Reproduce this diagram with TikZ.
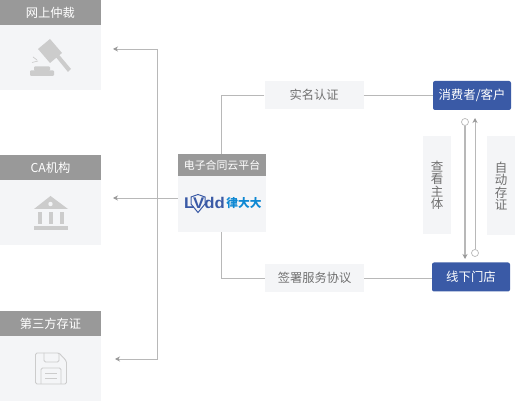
\documentclass[tikz,border=0pt]{standalone}
\usepackage{fontspec}
\setmainfont{Noto Sans CJK SC}
\newfontfamily\latinf{Liberation Sans}
\usetikzlibrary{arrows.meta,calc}
\definecolor{hdr}{HTML}{999999}
\definecolor{pale}{HTML}{F4F5F7}
\definecolor{navy}{HTML}{3A5AA6}
\definecolor{wire}{HTML}{B8B8B8}
\definecolor{ico}{HTML}{CCCCCC}
\definecolor{txt}{HTML}{707070}
\tikzset{
  x=1pt,y=-1pt,
  hdrbox/.style={fill=hdr,text=white,inner sep=0pt,font=\fontsize{12.25}{13}\selectfont},
  bodybox/.style={fill=pale,inner sep=0pt},
  labbox/.style={fill=pale,text=txt,inner sep=0pt,font=\fontsize{12.25}{13}\selectfont},
  vbox/.style={fill=pale,text=txt,inner sep=0pt,align=center,font=\fontsize{12.5}{12.5}\selectfont},
  bluebox/.style={fill=navy,rounded corners=2pt,text=white,inner sep=0pt,font=\fontsize{12.4}{13}\selectfont},
  wireline/.style={draw=wire,line width=0.9pt},
  tipped/.style={wireline,-{Stealth[length=5pt,width=5pt,color=hdr]}},
  ring/.style={circle,draw=wire,fill=white,line width=0.7pt,minimum size=7pt,inner sep=0pt},
}
\begin{document}
\begin{tikzpicture}
\useasboundingbox (0,0) rectangle (515,401);
% left column
\node[bodybox,minimum width=101pt,minimum height=65pt] (b1) at (50.5,57.5) {};
\node[hdrbox,minimum width=101pt,minimum height=25pt] (h1) at (50.5,12.5) {网上仲裁};
\node[bodybox,minimum width=101pt,minimum height=65pt] (b2) at (50.5,212.5) {};
\node[hdrbox,minimum width=101pt,minimum height=25pt] (h2) at (50.5,167.5) {CA机构};
\node[bodybox,minimum width=101pt,minimum height=65pt] (b3) at (50.5,368.5) {};
\node[hdrbox,minimum width=101pt,minimum height=25pt] (h3) at (50.5,323.5) {第三方存证};
% centre
\node[bodybox,minimum width=88pt,minimum height=56pt] (pb) at (222,204) {};
\node[hdrbox,minimum width=88pt,minimum height=22pt,font=\fontsize{10.9}{12}\selectfont] (ph) at (222,165) {电子合同云平台};
% labels
\node[labbox,minimum width=99pt,minimum height=28pt] (l1) at (314,95) {实名认证};
\node[labbox,minimum width=99pt,minimum height=28pt] (l2) at (314.5,278) {签署服务协议};
\node[bluebox,minimum width=78pt,minimum height=29pt] (u1) at (472,95.5) {消费者/客户};
\node[bluebox,minimum width=78pt,minimum height=29pt] (u2) at (471,277) {线下门店};
\node[vbox,minimum width=28pt,minimum height=98pt] (v1) at (437,185) {查\\看\\主\\体};
\node[vbox,minimum width=28pt,minimum height=99pt] (v2) at (501,186) {自\\动\\存\\证};
% connectors
\coordinate (trunkT) at (157.5,49);
\coordinate (trunkB) at (157.5,359);
\coordinate (a1) at (113,49);
\coordinate (a2) at (113,198);
\coordinate (a3) at (115,359);
\coordinate (j1) at (221,95);
\coordinate (j2) at (221,278);
\draw[wireline] (trunkT) -- (trunkB);
\draw[tipped] (trunkT) -- (a1);
\draw[tipped] (pb.west |- a2) -- (a2);
\draw[tipped] (trunkB) -- (a3);
\draw[wireline] (l1.west) -- (j1) -- (ph.north -| j1);
\draw[wireline] (l2.west) -- (j2) -- (pb.south -| j2);
\draw[wireline] (l1.east) -- (l1.east -| u1.west);
\draw[wireline] (l2.east) -- (l2.east -| u2.west);
% double arrows
\node[ring] (r1) at (465,122) {};
\node[ring] (r2) at (475,253) {};
\coordinate (t1) at (465,259);
\coordinate (t2) at (475,118);
\draw[tipped,line width=1.2pt] (r1) -- (t1);
\draw[tipped] (r2) -- (t2);
% gavel
\fill[ico] (38,49) -- (50,39) -- (62,53) -- (50,63) -- cycle;
\fill[ico] (55,56) -- (58,53.5) -- (71,69) -- (68,72) -- cycle;
\fill[ico,rounded corners=1pt] (30,76) rectangle (54,70.5);
\fill[ico,rounded corners=1pt] (34,71) rectangle (50,66.5);
\draw[ico,line width=0.7pt] (33,57) -- (37,60) (32,62.5) -- (38,61);
% bank
\fill[ico] (34,209) -- (50.5,196) -- (68,209) -- cycle;
\fill[pale] (50.5,204) circle (2.2pt);
\fill[ico] (38,212) rectangle (42,224);
\fill[ico] (48.5,212) rectangle (53,224);
\fill[ico] (59.5,212) rectangle (64,224);
\fill[ico] (34,226) rectangle (68,230);
% disk
\begin{scope}[draw=ico,line width=0.9pt,rounded corners=1.5pt]
\draw (35.5,353) -- (59,353) -- (66.5,361) -- (66.5,384) -- (35.5,384) -- cycle;
\draw (44,353) -- (44,362) -- (59,362) -- (59,353);
\draw (41,384) -- (41,368) -- (61,368) -- (61,384);
\draw (45,373) -- (57,373) (45,378) -- (57,378);
\end{scope}
% logo
\draw[navy,line width=1pt,fill=pale] (191,197) -- (198,194.5) -- (205,197) -- (205,204) -- (198,212.5) -- (191,204) -- cycle;
\node[inner sep=0pt,text=navy,xscale=1.08,font=\latinf\bfseries\fontsize{15.5}{16}\selectfont] (logoA) at (204.5,203) {LVdd};
\node[inner sep=0pt,text=cyan!70!blue,font=\bfseries\fontsize{11.7}{12}\selectfont] (logoB) at (244,203.5) {律大大};
\end{tikzpicture}
\end{document}
